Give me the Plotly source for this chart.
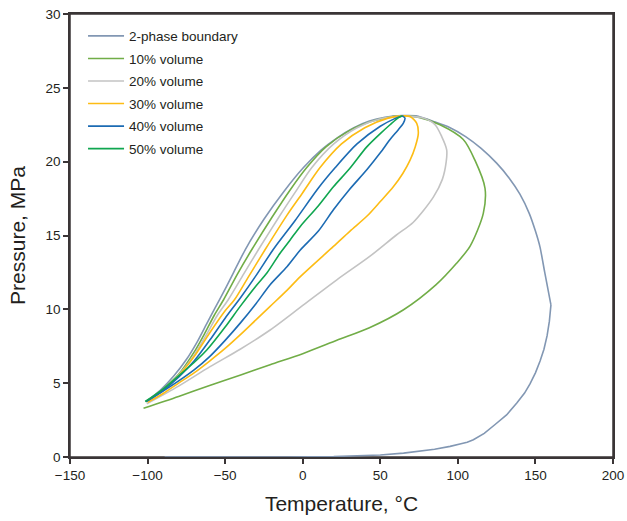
import plotly.graph_objects as go

# ---- data (Temperature °C, Pressure MPa) ----
# 2-phase boundary: left (bubble) branch over the top to the cricondentherm
boundary_upper_T = [-101, -92, -83, -75, -68, -62, -57, -53.6, -45, -37, -25, -12, 0.5, 12, 22, 33, 43, 53, 64, 73,
                    85, 95, 105, 115, 125, 133, 140, 146, 150, 153, 156, 160]
boundary_upper_P = [3.75, 4.5, 5.5, 6.6, 7.8, 9.0, 10.0, 10.65, 12.4, 14.05, 16.1, 18.0, 19.6, 20.8, 21.6, 22.3, 22.75, 23.0, 23.12, 23.1,
                    22.7, 22.3, 21.7, 20.9, 19.9, 18.9, 17.8, 16.5, 15.3, 14.2, 12.5, 10.3]
# 2-phase boundary: lower (dew) branch
boundary_lower_T = [160, 159, 157.5, 155.5, 153, 150, 146.5, 143, 138, 131.4, 124, 117, 110, 106, 102, 95, 85, 75, 65,
                    50, 35, 20, 5, -10, -89]
boundary_lower_P = [10.3, 9.2, 8.2, 7.3, 6.5, 5.7, 4.95, 4.33, 3.65, 2.85, 2.2, 1.6, 1.17, 1.0, 0.9, 0.72, 0.52, 0.37, 0.26,
                    0.14, 0.07, 0.03, 0.01, 0.0, 0.0]

v10_left_T = [-101, -90, -80, -70, -63, -57, -51, -42, -32.8, -20, -8, 2.6, 15, 30, 45, 58, 64]
v10_left_P = [3.75, 4.6, 5.6, 7.1, 8.4, 9.6, 10.65, 12.4, 14.05, 16.2, 18.1, 19.6, 21.0, 22.1, 22.75, 23.05, 23.1]
v10_right_T = [-102.6, -80, -60, -40, -21, 0, 22, 43, 65, 86, 99, 108, 116.4, 117.5, 111, 103.5, 88.5, 75, 64]
v10_right_P = [3.3, 4.1, 4.85, 5.55, 6.25, 7.0, 7.9, 8.75, 9.97, 11.67, 13.1, 14.3, 16.5, 18.2, 20.1, 21.5, 22.5, 23.0, 23.1]

v20_left_T = [-101, -90, -80, -70, -62, -55, -48, -38, -28.5, -15, -5, 5.9, 20, 35, 50, 64]
v20_left_P = [3.75, 4.55, 5.55, 6.9, 8.3, 9.6, 10.65, 12.4, 14.05, 16.3, 17.9, 19.6, 21.2, 22.3, 22.9, 23.1]
v20_right_T = [-100.5, -80, -60, -40.3, -21, 0.5, 22, 43.4, 60, 71.3, 84.2, 90, 92.5, 92.8, 89.6, 85.3, 77.7, 66]
v20_right_P = [3.6, 4.8, 6.1, 7.3, 8.6, 10.3, 12.0, 13.6, 15.0, 15.9, 17.6, 18.8, 20.0, 20.8, 21.7, 22.5, 22.95, 23.1]

v30_left_T = [-101, -90, -80, -70, -60, -50, -44, -35, -24.2, -10, 0, 11.2, 25, 40, 55, 64]
v30_left_P = [3.75, 4.55, 5.5, 6.8, 8.4, 9.9, 10.65, 12.2, 14.05, 16.4, 17.9, 19.6, 21.2, 22.3, 22.95, 23.1]
v30_right_T = [-100, -90, -80, -70, -60, -50, -40, -30, -21, -10, -1.7, 19.8, 30.5, 41.3, 50, 58.4, 64.5, 69.2,
               72.5, 74.5, 73.5, 69.2, 65]
v30_right_P = [3.7, 4.3, 5.0, 5.7, 6.5, 7.35, 8.3, 9.3, 10.2, 11.3, 12.2, 14.26, 15.3, 16.3, 17.3, 18.3, 19.2, 20.1,
               21.0, 21.9, 22.6, 23.06, 23.1]

v40_left_T = [-101, -90, -80, -70, -60, -50, -40, -30, -19, -5, 10, 21, 35, 50, 60, 64]
v40_left_P = [3.75, 4.5, 5.4, 6.5, 7.9, 9.4, 10.8, 12.3, 14.05, 16.0, 18.2, 19.6, 21.2, 22.4, 22.95, 23.1]
v40_right_T = [-101, -85, -70, -60, -50, -40, -30, -21, -10, -1.7, 10.1, 19.8, 30, 41.3, 50, 56.3, 61.5, 64.8, 65.9, 64]
v40_right_P = [3.75, 4.8, 5.9, 6.8, 7.9, 9.1, 10.4, 11.67, 12.9, 14.0, 15.3, 16.74, 18.1, 19.45, 20.6, 21.5, 22.15, 22.6, 22.95, 23.1]

v50_T = [-101.5, -90, -80, -70, -61.7, -50, -40.3, -30, -23.1, -14.6, -8.1, -1.7, 10, 19.8, 30, 41.3, 50, 56.3, 62, 64]
v50_P = [3.76, 4.6, 5.5, 6.4, 7.26, 8.8, 10.2, 11.6, 12.46, 13.8, 14.7, 15.6, 17.0, 18.3, 19.5, 21.0, 21.9, 22.5, 23.0, 23.1]

names = ["2-phase boundary", "10% volume", "20% volume", "30% volume", "40% volume", "50% volume"]
colors = ["#8297B3", "#71AD47", "#C3C3C3", "#FDBC14", "#1C6BB3", "#10A650"]

fig = go.Figure()


def add(T, P, i, show, shape="spline", smoothing=0.8):
    fig.add_trace(go.Scatter(x=T, y=P, mode="lines", name=names[i],
                             line=dict(color=colors[i], width=1.6, shape=shape, smoothing=smoothing),
                             legendgroup=names[i], showlegend=show, hoverinfo="skip", cliponaxis=False))


add(boundary_upper_T, boundary_upper_P, 0, True, smoothing=0.6)
add(boundary_lower_T, boundary_lower_P, 0, False, shape="linear")
add(v10_left_T, v10_left_P, 1, True)
add(v10_right_T, v10_right_P, 1, False)
add(v20_left_T, v20_left_P, 2, True)
add(v20_right_T, v20_right_P, 2, False)
add(v30_left_T, v30_left_P, 3, True)
add(v30_right_T, v30_right_P, 3, False)
add(v40_left_T, v40_left_P, 4, True)
add(v40_right_T, v40_right_P, 4, False)
add(v50_T, v50_P, 5, True)

frame_color = "#3a3536"
axis_common = dict(showgrid=False, zeroline=False, showline=True, linecolor=frame_color, linewidth=1.5,
                   mirror=True, ticks="outside", ticklen=5, tickcolor=frame_color, tickwidth=1.5,
                   automargin=False, layer="below traces",
                   tickfont=dict(family="Liberation Sans, Arial", size=13.5, color="#231F20"))

fig.update_layout(
    width=627, height=521,
    margin=dict(l=70, r=14, t=14, b=64),
    paper_bgcolor="white", plot_bgcolor="white",
    font=dict(family="Liberation Sans, Arial", color="#231F20"),
    xaxis=dict(range=[-150, 200], tickvals=[-150, -100, -50, 0, 50, 100, 150, 200],
               title=dict(text="Temperature, °C", font=dict(size=21), standoff=14), **axis_common),
    yaxis=dict(range=[0, 30], tickvals=[0, 5, 10, 15, 20, 25, 30],
               title=dict(text="Pressure, MPa", font=dict(size=21), standoff=14), **axis_common),
    legend=dict(x=0.024, y=0.985, xanchor="left", yanchor="top", bgcolor="rgba(0,0,0,0)",
                font=dict(size=13.5, color="#231F20"), itemwidth=36, tracegroupgap=2),
    shapes=[dict(type="rect", xref="paper", yref="paper", x0=0, x1=1, y0=0, y1=1,
                 line=dict(color=frame_color, width=1.5), fillcolor="rgba(0,0,0,0)", layer="below")],
)

fig.write_html("out.html", config={"displayModeBar": False},
               post_script="document.body.style.margin='0';document.body.style.overflow='hidden';")
